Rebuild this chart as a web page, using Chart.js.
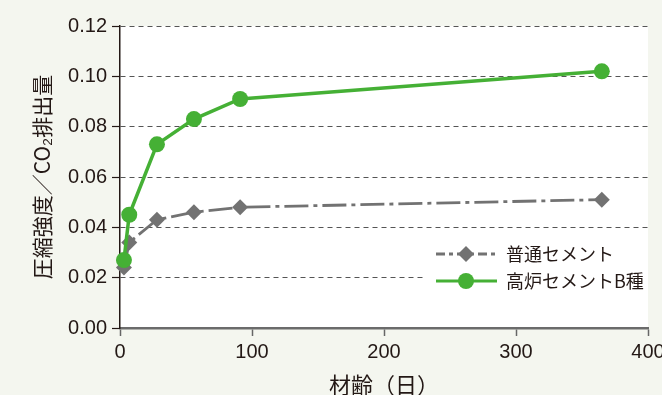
<!DOCTYPE html>
<html><head><meta charset="utf-8">
<script src="https://cdn.jsdelivr.net/npm/chart.js@4/dist/chart.umd.min.js"></script>
<style>
html,body{margin:0;padding:0;background:#f4f6ef;}
#wrap{position:relative;width:662px;height:395px;}
canvas{display:block;}
</style></head>
<body><div id="wrap"><canvas id="c" width="662" height="395"></canvas></div>
<script>
const days = [3, 7, 28, 56, 91, 365];
const normalCement = [0.024, 0.034, 0.043, 0.046, 0.048, 0.051];
const blastFurnaceB = [0.027, 0.045, 0.073, 0.083, 0.091, 0.102];
const seriesNames = ['普通セメント', '高炉セメントB種'];
const xTitle = '材齢（日）';
const yTitle = '圧縮強度／CO₂排出量';

const GRAY = '#727272';
const GREEN = '#45b035';
const INK = '#231815';

const bgPlugin = {
  id: 'bg',
  beforeDraw(chart) {
    const {ctx, chartArea: a} = chart;
    ctx.save();
    ctx.fillStyle = '#ffffff';
    ctx.fillRect(a.left, a.top, a.right - a.left, a.bottom - a.top);
    ctx.restore();
  }
};

const legendPlugin = {
  id: 'customLegend',
  afterDatasetsDraw(chart) {
    const {ctx, chartArea: a} = chart;
    ctx.save();
    ctx.fillStyle = '#ffffff';
    ctx.fillRect(424, 238, a.right - 424, 58);
    const rows = [
      {y: 254, color: GRAY, dash: [9, 4, 4, 4], width: 2.8, style: 'diamond', name: seriesNames[0]},
      {y: 281, color: GREEN, dash: [], width: 3, style: 'circle', name: seriesNames[1]}
    ];
    rows.forEach(r => {
      ctx.strokeStyle = r.color;
      ctx.lineWidth = r.width;
      ctx.setLineDash(r.dash);
      ctx.beginPath();
      ctx.moveTo(436, r.y);
      ctx.lineTo(497, r.y);
      ctx.stroke();
      ctx.setLineDash([]);
      ctx.fillStyle = r.color;
      ctx.beginPath();
      if (r.style === 'diamond') {
        const s = 8;
        ctx.moveTo(466, r.y - s); ctx.lineTo(466 + s, r.y); ctx.lineTo(466, r.y + s); ctx.lineTo(466 - s, r.y);
        ctx.closePath();
      } else {
        ctx.arc(466, r.y, 8, 0, Math.PI * 2);
      }
      ctx.fill();
      ctx.fillStyle = INK;
      ctx.font = '18px "Noto Sans CJK JP", "Liberation Sans", sans-serif';
      ctx.textBaseline = 'middle';
      ctx.textAlign = 'left';
      ctx.fillText(r.name, 506, r.y);
    });
    ctx.restore();
  }
};

const tickFont = {family: '"Liberation Sans", Arial, sans-serif', size: 20};

new Chart(document.getElementById('c'), {
  type: 'line',
  data: {
    datasets: [
      {
        label: seriesNames[0],
        data: days.map((d, i) => ({x: d, y: normalCement[i]})),
        borderColor: GRAY,
        backgroundColor: GRAY,
        borderWidth: 2.8,
        borderDash: [24, 5, 4, 5],
        pointStyle: 'rectRot',
        pointRadius: 8,
        pointHoverRadius: 8,
        pointBorderWidth: 0,
        tension: 0,
        clip: false,
        order: 2
      },
      {
        label: seriesNames[1],
        data: days.map((d, i) => ({x: d, y: blastFurnaceB[i]})),
        borderColor: GREEN,
        backgroundColor: GREEN,
        borderWidth: 3.5,
        pointStyle: 'circle',
        pointRadius: 8,
        pointHoverRadius: 8,
        pointBorderWidth: 0,
        tension: 0,
        clip: false,
        order: 1
      }
    ]
  },
  options: {
    responsive: false,
    animation: false,
    events: [],
    layout: {padding: {top: 26, right: 14, left: 0, bottom: 0}},
    plugins: {legend: {display: false}, tooltip: {enabled: false}},
    scales: {
      x: {
        type: 'linear',
        min: 0, max: 400,
        ticks: {stepSize: 100, color: INK, font: tickFont, padding: 4, maxRotation: 0},
        grid: {drawOnChartArea: false, drawTicks: true, tickLength: 8, tickColor: '#666666', tickWidth: 1.5},
        border: {display: true, color: '#6b6b6b', width: 2.5},
        title: {display: true, text: xTitle, color: INK,
          font: {family: '"Noto Sans CJK JP", sans-serif', size: 22, lineHeight: 1.0},
          padding: {top: 0, bottom: -1}},
        afterFit(s) { s.height = 67; s.paddingRight = 12; s.paddingLeft = 0; }
      },
      y: {
        min: 0, max: 0.12,
        ticks: {stepSize: 0.02, color: INK, font: tickFont, padding: 5,
          callback: v => v.toFixed(2)},
        grid: {color: '#555555', lineWidth: 1, drawTicks: true, tickLength: 8, tickColor: INK, tickWidth: 1.2, tickBorderDash: []},
        border: {display: true, color: INK, width: 1.5, dash: [5, 4]},
        title: {display: true, text: yTitle, color: INK,
          font: {family: '"Noto Sans CJK JP", sans-serif', size: 21, lineHeight: 1.2},
          padding: {top: 29, bottom: 0}},
        afterFit(s) { s.width = 120; s.paddingTop = 0; s.paddingBottom = 0; }
      }
    }
  },
  plugins: [bgPlugin, legendPlugin]
});
</script>
</body></html>
